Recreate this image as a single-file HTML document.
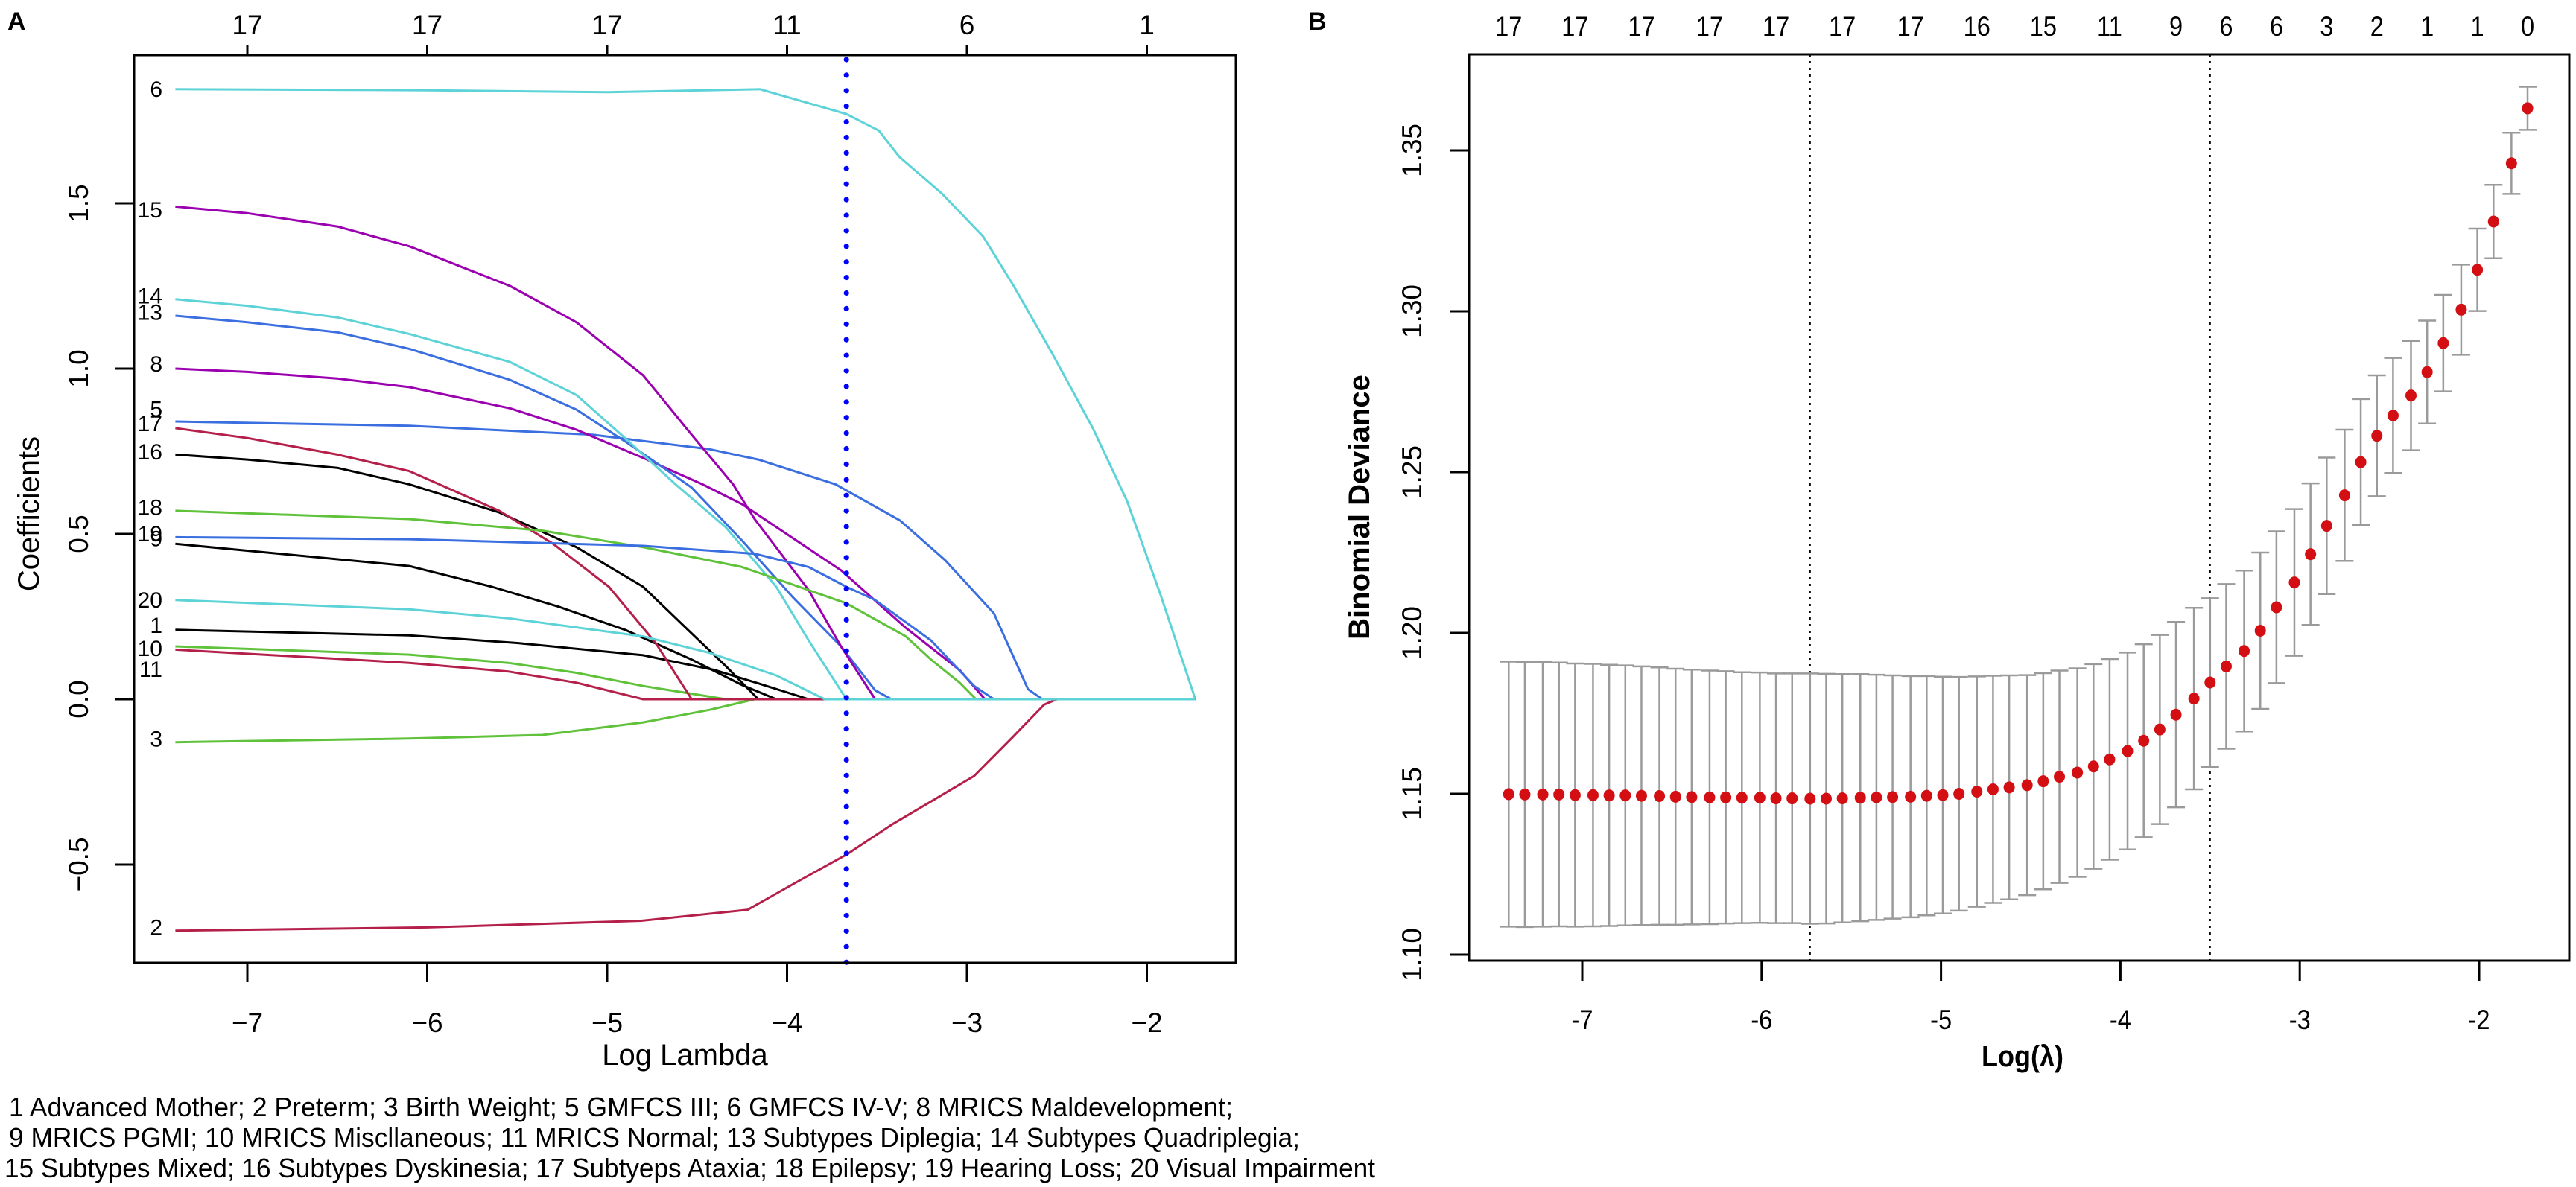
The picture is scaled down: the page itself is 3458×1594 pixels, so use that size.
<!DOCTYPE html>
<html><head><meta charset="utf-8"><style>
html,body{margin:0;padding:0;background:#fff}
svg{display:block;font-family:"Liberation Sans",Arial,sans-serif}
</style></head><body>
<svg id="fig" width="3458" height="1594" viewBox="0 0 3458 1594" xmlns="http://www.w3.org/2000/svg">
<rect width="3458" height="1594" fill="#fff"/>
<g id="panelA"></g>
<g id="panelB"></g>
<g font-size="36" fill="#000">
<text x="12" y="1499" textLength="1643" lengthAdjust="spacingAndGlyphs">1  Advanced Mother;  2 Preterm; 3 Birth Weight; 5 GMFCS III; 6 GMFCS IV-V; 8 MRICS Maldevelopment;</text>
<text x="12" y="1540" textLength="1733" lengthAdjust="spacingAndGlyphs">9 MRICS PGMI; 10 MRICS Miscllaneous; 11 MRICS Normal;  13 Subtypes Diplegia; 14 Subtypes Quadriplegia;</text>
<text x="6" y="1581" textLength="1840" lengthAdjust="spacingAndGlyphs">15 Subtypes Mixed; 16 Subtypes Dyskinesia; 17 Subtyeps Ataxia; 18 Epilepsy; 19 Hearing Loss; 20 Visual Impairment</text>
</g>
</svg>
<script>
// ---------- Panel A data ----------
const varIds = [1,2,3,5,6,8,9,10,11,13,14,15,16,17,18,19,20];
const varColors = ['#000000','#b5204a','#5fc23a','#3b6fe0','#5dd3d8','#9b00b0','#000000','#5fc23a','#b5204a','#3b6fe0','#5dd3d8','#9b00b0','#000000','#b5204a','#5fc23a','#3b6fe0','#5dd3d8'];
const labelCoef = [0.223,-0.69,-0.12,0.877,1.845,1.013,0.485,0.153,0.09,1.17,1.22,1.48,0.748,0.833,0.58,0.50,0.30];
const p1 = [[-7.4,.21],[-6.1,.193],[-5.5,.17],[-4.8,.133],[-4.4,.088],[-4.13,.043],[-3.88,0],[-1.73,0]];
const p2 = [[-7.4,-.70],[-6,-.69],[-4.81,-.67],[-4.22,-.637],[-3.95,-.554],[-3.67,-.47],[-3.42,-.38],[-2.96,-.232],[-2.75,-.117],[-2.57,-.016],[-2.5,0],[-1.73,0]];
const p3 = [[-7.4,-.13],[-6.1,-.119],[-5.36,-.108],[-4.8,-.07],[-4.43,-.032],[-4.18,0],[-1.73,0]];
const p5 = [[-7.4,.84],[-6.1,.827],[-5.08,.80],[-4.43,.756],[-4.16,.725],[-3.73,.65],[-3.37,.54],[-3.12,.42],[-2.85,.26],[-2.66,.03],[-2.58,0],[-1.73,0]];
const p6 = [[-7.4,1.845],[-6,1.842],[-5,1.836],[-4.15,1.845],[-3.67,1.77],[-3.49,1.72],[-3.375,1.64],[-3.14,1.53],[-2.91,1.40],[-2.74,1.25],[-2.53,1.05],[-2.30,.82],[-2.11,.60],[-1.92,.31],[-1.73,0]];
const p8 = [[-7.4,1.0],[-7,.99],[-6.5,.97],[-6.1,.944],[-5.54,.88],[-5.17,.815],[-4.8,.73],[-4.47,.65],[-4.25,.59],[-3.7,.39],[-3.34,.216],[-3.04,.088],[-2.9,0],[-1.73,0]];
const p9 = [[-7.4,.47],[-6.1,.403],[-5.64,.34],[-5.27,.28],[-4.9,.21],[-4.53,.12],[-4.25,.043],[-4.06,0],[-1.73,0]];
const p10 = [[-7.4,.16],[-6.1,.135],[-5.55,.11],[-5.17,.08],[-4.8,.04],[-4.34,0],[-1.73,0]];
const p11 = [[-7.4,.15],[-6.1,.11],[-5.55,.084],[-5.17,.05],[-4.8,0],[-1.73,0]];
const p13 = [[-7.4,1.16],[-7,1.14],[-6.5,1.11],[-6.1,1.06],[-5.54,.966],[-5.17,.876],[-4.9,.78],[-4.66,.69],[-4.53,.64],[-4.25,.48],[-3.97,.31],[-3.7,.16],[-3.51,.027],[-3.42,0],[-1.73,0]];
const p14 = [[-7.4,1.21],[-7,1.19],[-6.5,1.155],[-6.1,1.105],[-5.54,1.02],[-5.17,.92],[-4.9,.79],[-4.62,.65],[-4.34,.52],[-4.06,.34],[-3.88,.178],[-3.67,0],[-1.73,0]];
const p15 = [[-7.4,1.49],[-7,1.47],[-6.5,1.43],[-6.1,1.37],[-5.54,1.25],[-5.17,1.14],[-4.8,.98],[-4.53,.80],[-4.3,.65],[-4.18,.545],[-3.88,.33],[-3.7,.16],[-3.51,0],[-1.73,0]];
const p16 = [[-7.4,.74],[-7,.725],[-6.5,.70],[-6.1,.65],[-5.6,.565],[-5.17,.46],[-4.8,.34],[-4.57,.22],[-4.34,.10],[-4.16,0],[-1.73,0]];
const p17 = [[-7.4,.82],[-7,.79],[-6.5,.74],[-6.1,.69],[-5.6,.57],[-5.3,.47],[-4.99,.34],[-4.73,.17],[-4.53,0],[-1.73,0]];
const p18 = [[-7.4,.57],[-6.1,.545],[-5.36,.51],[-4.8,.46],[-4.25,.40],[-3.67,.29],[-3.34,.19],[-3.2,.12],[-3.04,.05],[-2.95,0],[-1.73,0]];
const p19 = [[-7.4,.49],[-6.1,.484],[-4.8,.464],[-4.18,.44],[-3.88,.40],[-3.67,.34],[-3.51,.30],[-3.2,.178],[-2.96,.04],[-2.85,0],[-1.73,0]];
const p20 = [[-7.4,.30],[-6.1,.272],[-5.55,.245],[-4.8,.19],[-4.43,.14],[-4.06,.072],[-3.79,0],[-1.73,0]];
const pathsA = [p1,p2,p3,p5,p6,p8,p9,p10,p11,p13,p14,p15,p16,p17,p18,p19,p20];
const xTicksA = [-7,-6,-5,-4,-3,-2];
const topCountsA = ['17','17','17','11','6','1'];
const yTicksA = [-0.5,0.0,0.5,1.0,1.5];
const yTickLabelsA = ['\u22120.5','0.0','0.5','1.0','1.5'];
const lambdaSelA = -3.67;

// ---------- Panel B data ----------
const lamB = [-7.41,-7.32,-7.22,-7.13,-7.04,-6.94,-6.85,-6.76,-6.67,-6.57,-6.48,-6.39,-6.29,-6.20,-6.11,-6.01,-5.92,-5.83,-5.73,-5.64,-5.55,-5.45,-5.36,-5.27,-5.17,-5.08,-4.99,-4.90,-4.80,-4.71,-4.62,-4.52,-4.43,-4.34,-4.24,-4.15,-4.06,-3.96,-3.87,-3.78,-3.69,-3.59,-3.50,-3.41,-3.31,-3.22,-3.13,-3.03,-2.94,-2.85,-2.75,-2.66,-2.57,-2.48,-2.38,-2.29,-2.20,-2.10,-2.01,-1.92,-1.82,-1.73];
const devB = [1.1499,1.1498,1.1498,1.1498,1.1496,1.1496,1.1495,1.1495,1.1494,1.1493,1.1491,1.1490,1.1489,1.1489,1.1488,1.1488,1.1486,1.1486,1.1485,1.1485,1.1486,1.1488,1.1489,1.1490,1.1491,1.1494,1.1496,1.1500,1.1507,1.1514,1.1520,1.1527,1.1539,1.1553,1.1566,1.1585,1.1607,1.1633,1.1665,1.1700,1.1746,1.1796,1.1846,1.1896,1.1944,1.2007,1.2080,1.2157,1.2245,1.2333,1.2428,1.2531,1.2613,1.2676,1.2738,1.2811,1.2901,1.3005,1.3129,1.3279,1.3460,1.3631];
const seB = [.0412,.0412,.0411,.0410,.0409,.0408,.0406,.0404,.0402,.0400,.0398,.0396,.0394,.0392,.0390,.0389,.0388,.0388,.0389,.0388,.0386,.0384,.0381,.0378,.0375,.0372,.0368,.0363,.0358,.0353,.0348,.0342,.0336,.0330,.0324,.0318,.0312,.0306,.0300,.0294,.0288,.0282,.0262,.0256,.0250,.0243,.0236,.0228,.0220,.0212,.0204,.0196,.0188,.0179,.0170,.0160,.0150,.0140,.0128,.0114,.0095,.0067];
const topIdxB = [0,4,8,12,16,20,24,28,32,36,40,43,46,49,52,55,58,61];
const topCountsB = ['17','17','17','17','17','17','17','16','15','11','9','6','6','3','2','1','1','0'];
const xTicksB = [-7,-6,-5,-4,-3,-2];
const yTicksB = [1.10,1.15,1.20,1.25,1.30,1.35];
const lamMinB = -5.73, lam1seB = -3.50;

const NS='http://www.w3.org/2000/svg';
function mk(parent, tag, attrs, text){const e=document.createElementNS(NS,tag);for(const k in attrs)e.setAttribute(k,attrs[k]);if(text!==undefined)e.textContent=text;parent.appendChild(e);return e;}

// ===== Panel A =====
(function(){
  const g=document.getElementById('panelA');
  const L=180,R=1659,T=74,B=1293;
  const xA=l=>332+(l+7)*241.5;
  const yA=v=>939-v*444;
  const lbl=mk(g,'text',{x:10,y:40,'font-size':34,'font-weight':'bold'},'A');
  
  
  pathsA.forEach((p,i)=>{
    const d=p.map((q,j)=>(j?'L':'M')+xA(q[0]).toFixed(1)+' '+yA(q[1]).toFixed(1)).join(' ');
    const pe=mk(g,'path',{d:d,fill:'none',stroke:varColors[i],'stroke-width':3,'stroke-linejoin':'round'});
    
    
    const t=mk(g,'text',{x:218,y:yA(labelCoef[i])+10,'font-size':30,'text-anchor':'end'},String(varIds[i]));
    
    
  });
  const x0=xA(lambdaSelA);
  for(let y=80;y<=B;y+=20.9){
    const c=mk(g,'circle',{cx:x0,cy:y,r:3.6,fill:'#0000ff'});
    
    
  }
  const box=mk(g,'rect',{x:L,y:T,width:R-L,height:B-T,fill:'none',stroke:'#000','stroke-width':3});
  
  
  xTicksA.forEach((l,i)=>{
    const x=xA(l);
    const tk=mk(g,'line',{x1:x,y1:B,x2:x,y2:B+26,stroke:'#000','stroke-width':3});
    
    
    const t=mk(g,'text',{x:x,y:1386,'font-size':37,'text-anchor':'middle'},l<0?'\u2212'+Math.abs(l):String(l));
    
    
    const tk2=mk(g,'line',{x1:x,y1:T,x2:x,y2:T-13,stroke:'#000','stroke-width':3});
    
    
    const t2=mk(g,'text',{x:x,y:46,'font-size':37,'text-anchor':'middle'},topCountsA[i]);
    
    
  });
  yTicksA.forEach((v,i)=>{
    const y=yA(v);
    const tk=mk(g,'line',{x1:L,y1:y,x2:L-25,y2:y,stroke:'#000','stroke-width':3});
    
    
    const t=mk(g,'text',{x:0,y:0,'font-size':37,'text-anchor':'middle',transform:'translate(118 '+y+') rotate(-90)'},yTickLabelsA[i]);
    
    
  });
  const xt=mk(g,'text',{x:(L+R)/2,y:1430,'font-size':40,'text-anchor':'middle'},'Log Lambda');
  
  
  const yt=mk(g,'text',{x:0,y:0,'font-size':40,'text-anchor':'middle',transform:'translate(52 690) rotate(-90)'},'Coefficients');
  
  
})();

// ===== Panel B =====
(function(){
  const g=document.getElementById('panelB');
  const L=1972,R=3449,T=73,B=1290;
  const xB=l=>2124+(l+7)*240.8;
  const yB=v=>1066-(v-1.15)*4320;
  const lbl=mk(g,'text',{x:1756,y:40,'font-size':34,'font-weight':'bold'},'B');
  
  
  [lamMinB,lam1seB].forEach((l,i)=>{
    const ln=mk(g,'line',{x1:xB(l),y1:T,x2:xB(l),y2:B,stroke:'#000','stroke-width':2,'stroke-dasharray':'3 6'});
    
    
  });
  lamB.forEach((l,i)=>{
    const x=xB(l), yu=yB(devB[i]+seB[i]), yl=yB(devB[i]-seB[i]);
    const eb=mk(g,'path',{d:`M${x} ${yu}L${x} ${yl}M${x-12} ${yu}L${x+12} ${yu}M${x-12} ${yl}L${x+12} ${yl}`,stroke:'#9a9a9a','stroke-width':2.5,fill:'none'});
    
    
  });
  lamB.forEach((l,i)=>{
    const c=mk(g,'ellipse',{cx:xB(l),cy:yB(devB[i]),rx:7.5,ry:8,fill:'#d40f14'});
    
    
  });
  const box=mk(g,'rect',{x:L,y:T,width:R-L,height:B-T,fill:'none',stroke:'#000','stroke-width':3});
  
  
  topIdxB.forEach((idx,i)=>{
    const x=xB(lamB[idx]);
    const t=mk(g,'text',{x:0,y:0,'font-size':37,'text-anchor':'middle',transform:`translate(${x} 48) scale(0.88 1)`},topCountsB[i]);
    
    
  });
  xTicksB.forEach(l=>{
    const x=xB(l);
    const tk=mk(g,'line',{x1:x,y1:B,x2:x,y2:B+27,stroke:'#000','stroke-width':3});
    
    
    const t=mk(g,'text',{x:0,y:0,'font-size':37,'text-anchor':'middle',transform:`translate(${x} 1382) scale(0.88 1)`},'-'+Math.abs(l));
    
    
  });
  yTicksB.forEach(v=>{
    const y=yB(v);
    const tk=mk(g,'line',{x1:L,y1:y,x2:L-25,y2:y,stroke:'#000','stroke-width':3});
    
    
    const t=mk(g,'text',{x:0,y:0,'font-size':37,'text-anchor':'middle',transform:`translate(1908 ${y}) rotate(-90)`},v.toFixed(2));
    
    
  });
  const xt=mk(g,'text',{x:0,y:0,'font-size':40,'font-weight':'bold','text-anchor':'middle',transform:'translate(2715 1432) scale(0.9 1)'},'Log(\u03bb)');
  
  
  const yt=mk(g,'text',{x:0,y:0,'font-size':40,'font-weight':'bold','text-anchor':'middle',transform:'translate(1838 681) rotate(-90)'},'Binomial Deviance');
  
  
})();
</script>
</body></html>
